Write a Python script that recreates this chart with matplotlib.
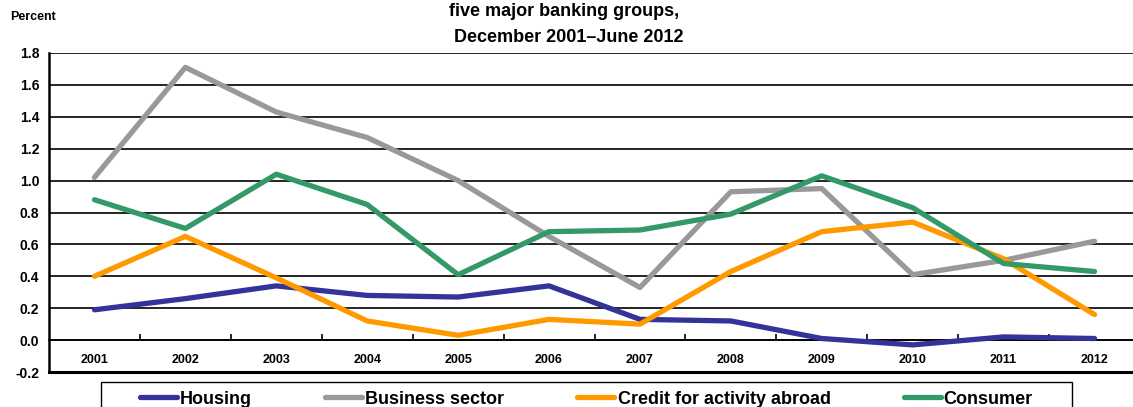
import numpy as np
import matplotlib
matplotlib.use('Agg')
import matplotlib.pyplot as plt
from matplotlib.patches import Rectangle

matplotlib.rcParams['font.family'] = ['Liberation Sans', 'DejaVu Sans']
matplotlib.rcParams['font.weight'] = 'bold'

# data (percent)
years = ['2001', '2002', '2003', '2004', '2005', '2006',
         '2007', '2008', '2009', '2010', '2011', '2012']
housing = [0.19, 0.26, 0.34, 0.28, 0.27, 0.34, 0.13, 0.12, 0.01, -0.03, 0.02, 0.01]
business = [1.02, 1.71, 1.43, 1.27, 1.00, 0.65, 0.33, 0.93, 0.95, 0.41, 0.50, 0.62]
abroad = [0.40, 0.65, 0.39, 0.12, 0.03, 0.13, 0.10, 0.43, 0.68, 0.74, 0.51, 0.16]
consumer = [0.88, 0.70, 1.04, 0.85, 0.41, 0.68, 0.69, 0.79, 1.03, 0.83, 0.48, 0.43]

series = [
    ('Housing', housing, '#333399'),
    ('Business sector', business, '#999999'),
    ('Credit for activity abroad', abroad, '#FF9900'),
    ('Consumer', consumer, '#339966'),
]

W, H = 1133, 407
fig = plt.figure(figsize=(W / 100, H / 100), dpi=100)
# the plot area runs past the right edge of the picture
ax = fig.add_axes([49 / W, 35 / H, 1091 / W, 319 / H])

x = np.arange(len(years))
for name, vals, col in series:
    ax.plot(x, vals, color=col, lw=3.8, label=name, solid_capstyle='round',
            solid_joinstyle='round', zorder=3)

ax.set_xlim(-0.5, len(years) - 0.5)
ax.set_ylim(-0.2, 1.8)
yt = np.round(np.arange(-0.2, 1.81, 0.2), 1)
ax.set_yticks(yt)
ax.set_yticklabels([f'{v:.1f}' for v in yt], fontsize=10, fontweight='bold')
ax.tick_params(axis='y', length=0, pad=7)

# horizontal grid
for v in yt[1:]:
    ax.axhline(v, color='black', lw=1.2, zorder=1)
ax.axhline(-0.2, color='black', lw=2.2, zorder=2, clip_on=False)

# category axis crossing at zero
ax.spines['bottom'].set_position(('data', 0))
ax.spines['bottom'].set_linewidth(1.2)
ax.spines['top'].set_visible(False)
ax.spines['right'].set_visible(False)
ax.spines['left'].set_linewidth(1.8)
ax.set_xticks(x)
ax.set_xticklabels(years, fontsize=9, fontweight='bold')
ax.set_xticks(x[:-1] + 0.5, minor=True)
ax.tick_params(axis='x', which='major', length=0, pad=10)
ax.tick_params(axis='x', which='minor', direction='in', length=4, width=1.2)

fig.text(10 / W, 1 - 17 / H, 'Percent', fontsize=9, fontweight='bold',
         ha='left', va='center')
fig.text(564 / W, 1 - 12 / H, 'five major banking groups,', fontsize=13,
         fontweight='bold', ha='center', va='center')
fig.text(569 / W, 1 - 37 / H, 'December 2001\u2013June 2012', fontsize=13,
         fontweight='bold', ha='center', va='center')

# legend box (cut off by the bottom edge)
fig.patches.append(Rectangle((101 / W, -0.1), (1072 - 101) / W, (1 - 382 / H) + 0.1,
                             transform=fig.transFigure, fill=False,
                             edgecolor='black', lw=1.0))
leg = fig.legend(loc='center left', bbox_to_anchor=(140 / W, 1 - 399 / H),
                 ncol=4, fontsize=13, frameon=False,
                 handlelength=2.05, handletextpad=0.17, columnspacing=4.05,
                 borderpad=0, borderaxespad=0)
for t in leg.get_texts():
    t.set_fontweight('bold')

fig.savefig('out.png', dpi=100)
